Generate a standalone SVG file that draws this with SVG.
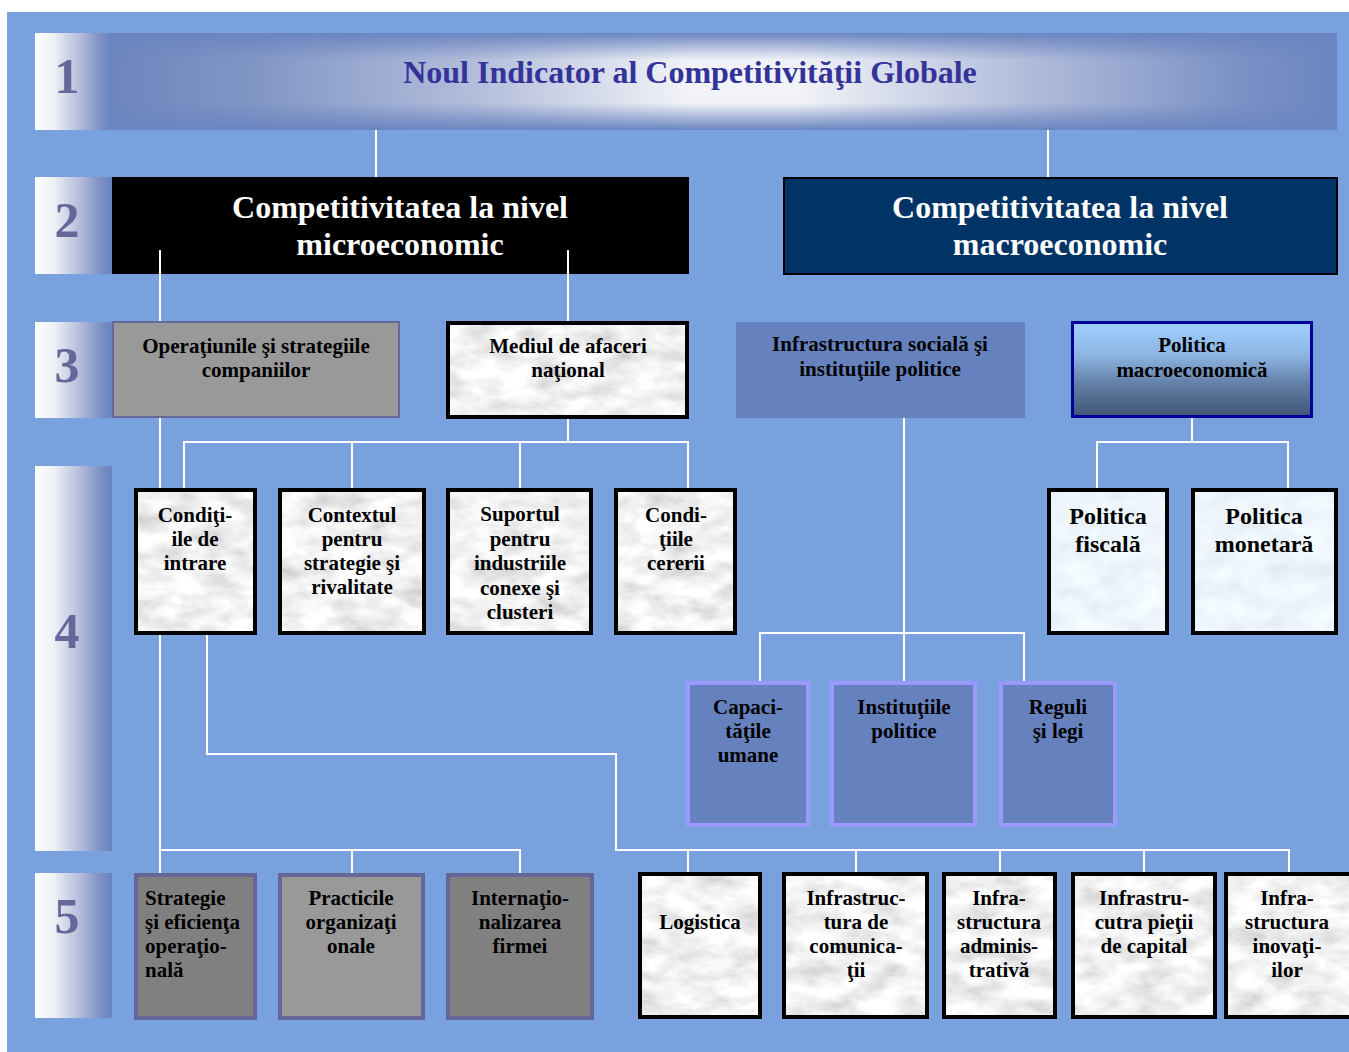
<svg xmlns="http://www.w3.org/2000/svg" width="1349" height="1052" viewBox="0 0 1349 1052">
<defs>
<linearGradient id="tab" x1="0" y1="0" x2="1" y2="0">
<stop offset="0" stop-color="#ffffff"/><stop offset="0.25" stop-color="#eef0f6"/><stop offset="0.6" stop-color="#b0b9d9"/><stop offset="0.85" stop-color="#7d91c6"/><stop offset="1" stop-color="#6784c0"/>
</linearGradient>
<linearGradient id="barH" x1="0" y1="0" x2="1" y2="0">
<stop offset="0" stop-color="#6c86bd"/><stop offset="0.12" stop-color="#8297c6"/><stop offset="0.3" stop-color="#b4bedb"/><stop offset="0.47" stop-color="#f2f3f8"/><stop offset="0.56" stop-color="#f2f3f8"/><stop offset="0.75" stop-color="#b0bbda"/><stop offset="0.92" stop-color="#7b92c5"/><stop offset="1" stop-color="#6a85c0"/>
</linearGradient>
<linearGradient id="barV" x1="0" y1="0" x2="0" y2="1">
<stop offset="0" stop-color="#6a85c0" stop-opacity="1"/><stop offset="0.28" stop-color="#6a85c0" stop-opacity="0"/><stop offset="0.72" stop-color="#6a85c0" stop-opacity="0"/><stop offset="1" stop-color="#6a85c0" stop-opacity="1"/>
</linearGradient>
<linearGradient id="macro" x1="0" y1="0" x2="0" y2="1">
<stop offset="0" stop-color="#9fd0ff"/><stop offset="0.35" stop-color="#8db4e2"/><stop offset="0.68" stop-color="#5f7ba0"/><stop offset="1" stop-color="#3f5676"/>
</linearGradient>
<filter id="marble" x="0" y="0" width="1" height="1">
<feTurbulence type="fractalNoise" baseFrequency="0.03 0.055" numOctaves="5" seed="7" result="t"/>
<feColorMatrix in="t" type="matrix" values="0.65 0 0 0 0.56  0.65 0 0 0 0.56  0.65 0 0 0 0.57  0 0 0 0 1" result="c"/>
<feComposite in="c" in2="SourceGraphic" operator="in"/>
</filter>
<filter id="marbleBlue" x="0" y="0" width="1" height="1">
<feTurbulence type="fractalNoise" baseFrequency="0.03 0.05" numOctaves="3" seed="4" result="t"/>
<feColorMatrix in="t" type="matrix" values="0.25 0 0 0 0.73  0.25 0 0 0 0.79  0.25 0 0 0 0.85  0 0 0 0 1" result="c"/>
<feComposite in="c" in2="SourceGraphic" operator="in"/>
</filter>
<style>
.num{font-family:"Liberation Serif","Times New Roman",serif;font-weight:bold;font-size:50px;fill:#666699;text-anchor:middle}
.t{font-family:"Liberation Serif","Times New Roman",serif;font-weight:bold;font-size:21px;fill:#000;text-anchor:middle}
.tl{text-anchor:start}
.big{font-size:24px}
.h2{font-family:"Liberation Serif","Times New Roman",serif;font-weight:bold;font-size:32px;fill:#fff;text-anchor:middle}
.title{font-family:"Liberation Serif","Times New Roman",serif;font-weight:bold;font-size:32px;fill:#333399;text-anchor:middle}
.mb{filter:url(#marble);fill:#fff}
.mbb{filter:url(#marbleBlue);fill:#fff}
.bk{fill:none;stroke:#000;stroke-width:4}
.gb{stroke:#666699;stroke-width:4}
.pb{fill:#6682be;stroke:#9999ff;stroke-width:4}
.conn line,.conn polyline{stroke:#fff;stroke-width:2;fill:none}
</style>
</defs>
<rect x="0" y="0" width="1349" height="1052" fill="#ffffff"/>
<rect x="7" y="12" width="1342" height="1040" fill="#79a1de"/>

<g id="tabs">
<rect x="35" y="33" width="77" height="97" fill="url(#tab)"/>
<rect x="35" y="177" width="77" height="97" fill="url(#tab)"/>
<rect x="35" y="322" width="77" height="96" fill="url(#tab)"/>
<rect x="35" y="466" width="77" height="385" fill="url(#tab)"/>
<rect x="35" y="873" width="77" height="145" fill="url(#tab)"/>
<text class="num" x="67" y="93">1</text>
<text class="num" x="67" y="237">2</text>
<text class="num" x="67" y="382">3</text>
<text class="num" x="67" y="648">4</text>
<text class="num" x="67" y="933">5</text>
</g>

<g class="conn" id="connectors">
<line x1="376" y1="130" x2="376" y2="177"/>
<line x1="1048" y1="130" x2="1048" y2="177"/>
<line x1="160" y1="250" x2="160" y2="489"/>
<line x1="568" y1="250" x2="568" y2="322"/>
<line x1="568" y1="418" x2="568" y2="442"/>
<polyline points="184,489 184,442 688,442 688,489"/>
<line x1="352" y1="442" x2="352" y2="489"/>
<line x1="520" y1="442" x2="520" y2="489"/>
<line x1="1192" y1="418" x2="1192" y2="442"/>
<polyline points="1097,489 1097,442 1288,442 1288,489"/>
<line x1="904" y1="418" x2="904" y2="682"/>
<polyline points="760,682 760,633 1024,633 1024,682"/>
<line x1="160" y1="634" x2="160" y2="874"/>
<polyline points="160,850 520,850 520,874"/>
<line x1="352" y1="850" x2="352" y2="874"/>
<polyline points="207,634 207,754 616,754 616,850 1289,850 1289,874"/>
<line x1="688" y1="850" x2="688" y2="874"/>
<line x1="856" y1="850" x2="856" y2="874"/>
<line x1="1000" y1="850" x2="1000" y2="874"/>
<line x1="1144" y1="850" x2="1144" y2="874"/>
</g>

<g id="n-title">
<rect x="112" y="33" width="1225" height="97" fill="url(#barH)"/>
<rect x="112" y="33" width="1225" height="97" fill="url(#barV)"/>
<text class="title" x="690" y="83">Noul Indicator al Competitivităţii Globale</text>
</g>

<g id="n-micro">
<rect x="112" y="177" width="577" height="97" fill="#000"/>
<text class="h2" x="400" y="218">Competitivitatea la nivel</text>
<text class="h2" x="400" y="255">microeconomic</text>
<line x1="160" y1="250" x2="160" y2="274" stroke="#fff" stroke-width="2"/>
<line x1="568" y1="250" x2="568" y2="274" stroke="#fff" stroke-width="2"/>
</g>

<g id="n-macro">
<rect x="784" y="178" width="553" height="96" fill="#003366" stroke="#000" stroke-width="2"/>
<text class="h2" x="1060" y="218">Competitivitatea la nivel</text>
<text class="h2" x="1060" y="255">macroeconomic</text>
</g>

<g id="n-operatiuni">
<rect x="113" y="322" width="286" height="95" fill="#999999" stroke="#666699" stroke-width="2"/>
<text class="t" x="256" y="353">Operaţiunile şi strategiile</text>
<text class="t" x="256" y="377">companiilor</text>
</g>

<g id="n-mediul">
<rect class="mb" x="448" y="323" width="239" height="94"/>
<rect class="bk" x="448" y="323" width="239" height="94"/>
<text class="t" x="568" y="353">Mediul de afaceri</text>
<text class="t" x="568" y="377">naţional</text>
</g>

<g id="n-infra-sociala">
<rect x="736" y="322" width="289" height="96" fill="#6682be"/>
<text class="t" x="880" y="351">Infrastructura socială şi</text>
<text class="t" x="880" y="376">instituţiile politice</text>
</g>

<g id="n-politica-macro">
<rect x="1072.5" y="322.5" width="239" height="94" fill="url(#macro)" stroke="#000099" stroke-width="3"/>
<text class="t" x="1192" y="352">Politica</text>
<text class="t" x="1192" y="377">macroeconomică</text>
</g>

<g id="n-conditii-intrare">
<rect class="mb" x="136" y="490" width="119" height="143"/>
<rect class="bk" x="136" y="490" width="119" height="143"/>
<text class="t" x="195" y="522">Condiţi-</text>
<text class="t" x="195" y="546">ile de</text>
<text class="t" x="195" y="570">intrare</text>
</g>

<g id="n-contextul">
<rect class="mb" x="280" y="490" width="144" height="143"/>
<rect class="bk" x="280" y="490" width="144" height="143"/>
<text class="t" x="352" y="522">Contextul</text>
<text class="t" x="352" y="546">pentru</text>
<text class="t" x="352" y="570">strategie şi</text>
<text class="t" x="352" y="594">rivalitate</text>
</g>

<g id="n-suportul">
<rect class="mb" x="448" y="490" width="143" height="143"/>
<rect class="bk" x="448" y="490" width="143" height="143"/>
<text class="t" x="520" y="521">Suportul</text>
<text class="t" x="520" y="545.5">pentru</text>
<text class="t" x="520" y="570">industriile</text>
<text class="t" x="520" y="594.5">conexe şi</text>
<text class="t" x="520" y="619">clusteri</text>
</g>

<g id="n-conditii-cererii">
<rect class="mb" x="616" y="490" width="119" height="143"/>
<rect class="bk" x="616" y="490" width="119" height="143"/>
<text class="t" x="676" y="522">Condi-</text>
<text class="t" x="676" y="546">ţiile</text>
<text class="t" x="676" y="570">cererii</text>
</g>

<g id="n-fiscala">
<rect class="mbb" x="1049" y="490" width="118" height="143"/>
<rect class="bk" x="1049" y="490" width="118" height="143"/>
<text class="t big" x="1108" y="524">Politica</text>
<text class="t big" x="1108" y="552">fiscală</text>
</g>

<g id="n-monetara">
<rect class="mbb" x="1193" y="490" width="143" height="143"/>
<rect class="bk" x="1193" y="490" width="143" height="143"/>
<text class="t big" x="1264" y="524">Politica</text>
<text class="t big" x="1264" y="552">monetară</text>
</g>

<g id="n-capacitati">
<rect class="pb" x="688" y="683" width="120" height="142"/>
<text class="t" x="748" y="714">Capaci-</text>
<text class="t" x="748" y="738">tăţile</text>
<text class="t" x="748" y="762">umane</text>
</g>

<g id="n-institutii">
<rect class="pb" x="832" y="683" width="143" height="142"/>
<text class="t" x="904" y="714">Instituţiile</text>
<text class="t" x="904" y="738">politice</text>
</g>

<g id="n-reguli">
<rect class="pb" x="1001" y="683" width="114" height="142"/>
<text class="t" x="1058" y="714">Reguli</text>
<text class="t" x="1058" y="738">şi legi</text>
</g>

<g id="n-strategie">
<rect class="gb" x="136" y="875" width="119" height="143" fill="#808080"/>
<text class="t tl" x="145" y="905">Strategie</text>
<text class="t tl" x="145" y="929">şi eficienţa</text>
<text class="t tl" x="145" y="953">operaţio-</text>
<text class="t tl" x="145" y="977">nală</text>
</g>

<g id="n-practicile">
<rect class="gb" x="280" y="875" width="143" height="143" fill="#999999"/>
<text class="t" x="351" y="905">Practicile</text>
<text class="t" x="351" y="929">organizaţi</text>
<text class="t" x="351" y="953">onale</text>
</g>

<g id="n-international">
<rect class="gb" x="448" y="875" width="144" height="143" fill="#808080"/>
<text class="t" x="520" y="905">Internaţio-</text>
<text class="t" x="520" y="929">nalizarea</text>
<text class="t" x="520" y="953">firmei</text>
</g>

<g id="n-logistica">
<rect class="mb" x="640" y="874" width="120" height="143"/>
<rect class="bk" x="640" y="874" width="120" height="143"/>
<text class="t" x="700" y="929">Logistica</text>
</g>

<g id="n-comunicatii">
<rect class="mb" x="784" y="874" width="143" height="143"/>
<rect class="bk" x="784" y="874" width="143" height="143"/>
<text class="t" x="856" y="905">Infrastruc-</text>
<text class="t" x="856" y="929">tura de</text>
<text class="t" x="856" y="953">comunica-</text>
<text class="t" x="856" y="977">ţii</text>
</g>

<g id="n-administrativa">
<rect class="mb" x="944" y="874" width="111" height="143"/>
<rect class="bk" x="944" y="874" width="111" height="143"/>
<text class="t" x="999" y="905">Infra-</text>
<text class="t" x="999" y="929">structura</text>
<text class="t" x="999" y="953">adminis-</text>
<text class="t" x="999" y="977">trativă</text>
</g>

<g id="n-piata-capital">
<rect class="mb" x="1073" y="874" width="142" height="143"/>
<rect class="bk" x="1073" y="874" width="142" height="143"/>
<text class="t" x="1144" y="905">Infrastru-</text>
<text class="t" x="1144" y="929">cutra pieţii</text>
<text class="t" x="1144" y="953">de capital</text>
</g>

<g id="n-inovatii">
<rect class="mb" x="1226" y="874" width="126" height="143"/>
<rect class="bk" x="1226" y="874" width="126" height="143"/>
<text class="t" x="1287" y="905">Infra-</text>
<text class="t" x="1287" y="929">structura</text>
<text class="t" x="1287" y="953">inovaţi-</text>
<text class="t" x="1287" y="977">ilor</text>
</g>
</svg>
